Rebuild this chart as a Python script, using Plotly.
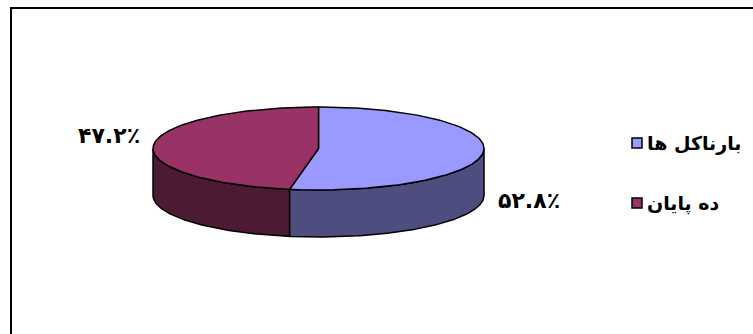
import numpy as np
import plotly.graph_objects as go

# Slice data
labels = ["بارناکل ها", "ده پایان"]
values = [52.8, 47.2]
top_colors = ["#9999FF", "#993366"]
side_colors = ["#4D4D80", "#4D1A33"]

# Geometry of the tilted pie (pixel units of the canvas)
W, H = 753, 334
CX, CY = 318.5, 148.5
RX, RY = 165.5, 41.5
DEPTH = 47
FONT = "DejaVu Sans"

PERSIAN = str.maketrans("0123456789", "۰۱۲۳۴۵۶۷۸۹")


def to_persian_pct(v):
    return f"{v:.1f}".translate(PERSIAN) + "٪"


def arc(a0, a1, n=160):
    t = np.radians(np.linspace(a0, a1, n))
    return CX + RX * np.cos(t), CY - RY * np.sin(t)


def front_intervals(a_lo, a_hi):
    """Parts of [a_lo, a_hi] (degrees) that face the viewer (-180..0)."""
    out = []
    for k in (-1, 0, 1):
        lo, hi = max(a_lo + 360 * k, -180), min(a_hi + 360 * k, 0)
        if hi > lo:
            out.append((lo, hi))
    return out


total = sum(values)
spans = []
start = 90.0
for v in values:
    end = start - v / total * 360.0
    spans.append((end, start))
    start = end

fig = go.Figure()

# Side walls first
for (a_lo, a_hi), col in zip(spans, side_colors):
    for lo, hi in front_intervals(a_lo, a_hi):
        xs, ys = arc(lo, hi)
        px = np.concatenate([xs, xs[::-1], xs[:1]])
        py = np.concatenate([ys, ys[::-1] + DEPTH, ys[:1]])
        fig.add_trace(go.Scatter(
            x=px, y=py, mode="lines", fill="toself", fillcolor=col,
            line=dict(color="black", width=1.5), showlegend=False,
            hoverinfo="skip"))

# Top faces
for (a_lo, a_hi), col, name, v in zip(spans, top_colors, labels, values):
    xs, ys = arc(a_hi, a_lo)
    px = np.concatenate([[CX], xs, [CX]])
    py = np.concatenate([[CY], ys, [CY]])
    fig.add_trace(go.Scatter(
        x=px, y=py, mode="lines", fill="toself", fillcolor=col,
        line=dict(color="black", width=1.5), showlegend=False,
        name=name, text=to_persian_pct(v), hoverinfo="text+name"))

# Legend: colour keys and names
LEG_X, LEG_Y0, LEG_DY = 637, 143, 60
fig.add_trace(go.Scatter(
    x=[LEG_X] * len(labels), y=[LEG_Y0 + i * LEG_DY for i in range(len(labels))],
    mode="markers", showlegend=False, hoverinfo="skip",
    marker=dict(symbol="square", size=10, color=top_colors,
                line=dict(color="black", width=1.5))))
for i, name in enumerate(labels):
    fig.add_annotation(x=LEG_X + 8, y=LEG_Y0 + i * LEG_DY, text=name,
                       showarrow=False, xanchor="left", yanchor="middle",
                       font=dict(family=FONT, size=19, color="black",
                                 weight="bold"))

# Percentage labels
label_pos = [(529, 200), (109, 135)]
for v, (lx, ly) in zip(values, label_pos):
    fig.add_annotation(x=lx, y=ly, text=to_persian_pct(v), showarrow=False,
                       xanchor="center", yanchor="middle",
                       font=dict(family=FONT, size=22, color="black",
                                 weight="bold"))

# Frame around the chart area
fig.add_shape(type="path", path=f"M 11 {H + 10} L 11 8 L {W + 10} 8",
              line=dict(color="black", width=2), xref="x", yref="y")

fig.update_layout(
    width=W, height=H, margin=dict(l=0, r=0, t=0, b=0),
    paper_bgcolor="white", plot_bgcolor="white",
    xaxis=dict(range=[0, W], visible=False, fixedrange=True),
    yaxis=dict(range=[H, 0], visible=False, fixedrange=True),
    showlegend=False,
)

fig.write_html("out.html")
